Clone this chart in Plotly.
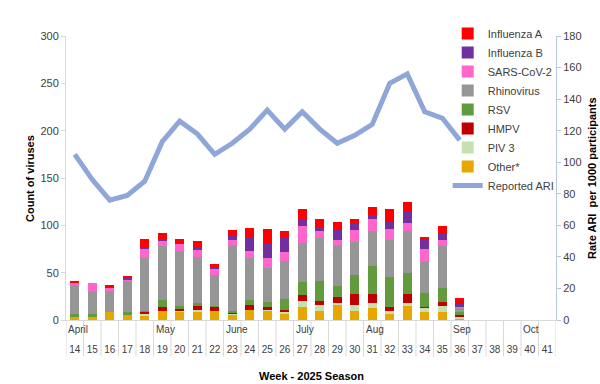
import plotly.graph_objects as go

weeks = [str(w) for w in range(14, 42)]
months = {"14": "April", "19": "May", "23": "June", "27": "July", "31": "Aug", "36": "Sep", "40": "Oct"}

# Weekly virus counts (weeks 14-36; later weeks no data)
other     = [4, 4, 8, 5, 5, 9, 9, 9, 9, 6, 11, 10, 7, 14, 9, 16, 9, 13, 7, 15, 8, 8, 2]
piv3      = [0, 0, 0, 0, 1, 0, 1, 2, 0, 1, 0, 1, 1, 6, 7, 2, 7, 5, 2, 3, 5, 7, 2]
hmpv      = [0, 0, 0, 0, 3, 5, 2, 4, 5, 1, 5, 3, 3, 6, 4, 6, 11, 9, 5, 9, 1, 4, 1]
rsv       = [2, 2, 0, 3, 1, 7, 3, 3, 1, 1, 5, 5, 11, 14, 21, 12, 21, 30, 31, 23, 14, 15, 3]
rhino     = [31, 25, 23, 34, 56, 57, 58, 49, 33, 70, 44, 36, 40, 41, 46, 43, 34, 37, 39, 44, 34, 44, 5]
sars      = [3, 8, 3, 1, 10, 6, 7, 7, 6, 5, 8, 11, 10, 18, 7, 5, 13, 13, 12, 8, 13, 7, 1]
flub      = [0, 0, 0, 1, 1, 2, 0, 2, 2, 5, 14, 14, 15, 8, 3, 11, 7, 4, 7, 13, 9, 6, 3]
flua      = [1, 0, 3, 3, 9, 6, 6, 7, 3, 6, 10, 16, 7, 10, 10, 9, 5, 8, 14, 10, 4, 8, 6]
# Reported ARI rate per 1000 participants
ari       = [105, 89, 76, 79, 88, 113, 126, 118, 105, 112, 121, 133, 121, 132, 121, 112, 117, 124, 150, 156, 132, 128, 114]

series = [
    ("Other*", other, "#E6A800"),
    ("PIV 3", piv3, "#C6E0B4"),
    ("HMPV", hmpv, "#C00000"),
    ("RSV", rsv, "#629A3E"),
    ("Rhinovirus", rhino, "#969696"),
    ("SARS-CoV-2", sars, "#FF66CC"),
    ("Influenza B", flub, "#7030A0"),
    ("Influenza A", flua, "#FF0000"),
]

n = len(other)
fig = go.Figure()
fig.add_trace(go.Scatter(x=weeks[:n], y=ari, name="Reported ARI", mode="lines",
                         line=dict(color="#8FA6D9", width=5), yaxis="y2"))
for name, vals, col in series:
    fig.add_trace(go.Bar(x=weeks[:n], y=vals, name=name, marker=dict(color=col, line=dict(width=0))))

# category separators and month labels
for i in range(len(weeks) + 1):
    fig.add_shape(type="line", xref="x", yref="paper", x0=i - 0.5, x1=i - 0.5, y0=0, y1=-0.128,
                  line=dict(color="#D9D9D9", width=1))
for i, w in enumerate(weeks):
    if w in months:
        fig.add_annotation(x=i - 0.5, y=-0.032, xref="x", yref="paper", text=months[w],
                           showarrow=False, xanchor="left", yanchor="middle",
                           font=dict(size=10, color="#404040"))

fig.add_annotation(x=0.5, y=-0.197, xref="paper", yref="paper", text="<b>Week - 2025 Season</b>",
                   showarrow=False, xanchor="center", yanchor="middle",
                   font=dict(size=11, color="#000000"))
fig.add_annotation(x=-0.0735, y=0.5, xref="paper", yref="paper", text="<b>Count of viruses</b>",
                   showarrow=False, textangle=-90, xanchor="center", yanchor="middle",
                   font=dict(size=11, color="#000000"))
fig.add_annotation(x=1.0735, y=0.5, xref="paper", yref="paper", text="<b>Rate ARI  per 1000 participants</b>",
                   showarrow=False, textangle=-90, xanchor="center", yanchor="middle",
                   font=dict(size=11, color="#000000"))

fig.update_layout(
    width=600, height=384,
    margin=dict(l=66, r=44, t=36, b=64, autoexpand=False),
    plot_bgcolor="white", paper_bgcolor="white",
    barmode="stack", bargap=0.48,
    font=dict(family="Liberation Sans, Arial, sans-serif", size=11, color="#404040"),
    xaxis=dict(type="category", categoryorder="array", categoryarray=weeks, automargin=False,
               range=[-0.5, len(weeks) - 0.5], showgrid=False, showline=True,
               linecolor="#D9D9D9", ticks="", tickfont=dict(size=10, color="#404040"),
               ticklabelstandoff=20),
    yaxis=dict(range=[0, 300], dtick=50, showgrid=False, showline=True, linecolor="#D9D9D9",
               ticks="outside", ticklen=4, tickcolor="#D9D9D9", zeroline=False, automargin=False,
               tickfont=dict(size=11, color="#404040")),
    yaxis2=dict(range=[0, 180], dtick=20, overlaying="y", side="right", showgrid=False,
                showline=True, linecolor="#B4C7E7", ticks="outside", ticklen=4, tickcolor="#B4C7E7",
                zeroline=False, automargin=False, tickfont=dict(size=11, color="#404040")),
    legend=dict(x=0.779, y=1.06, xanchor="left", yanchor="top", traceorder="reversed",
                bgcolor="rgba(255,255,255,0)", font=dict(size=11, color="#404040"),
                itemwidth=30, tracegroupgap=0),
    showlegend=True,
)

fig.write_html("out.html", config={"displayModeBar": False},
               post_script="document.body.style.margin='0';document.body.style.padding='0';")
